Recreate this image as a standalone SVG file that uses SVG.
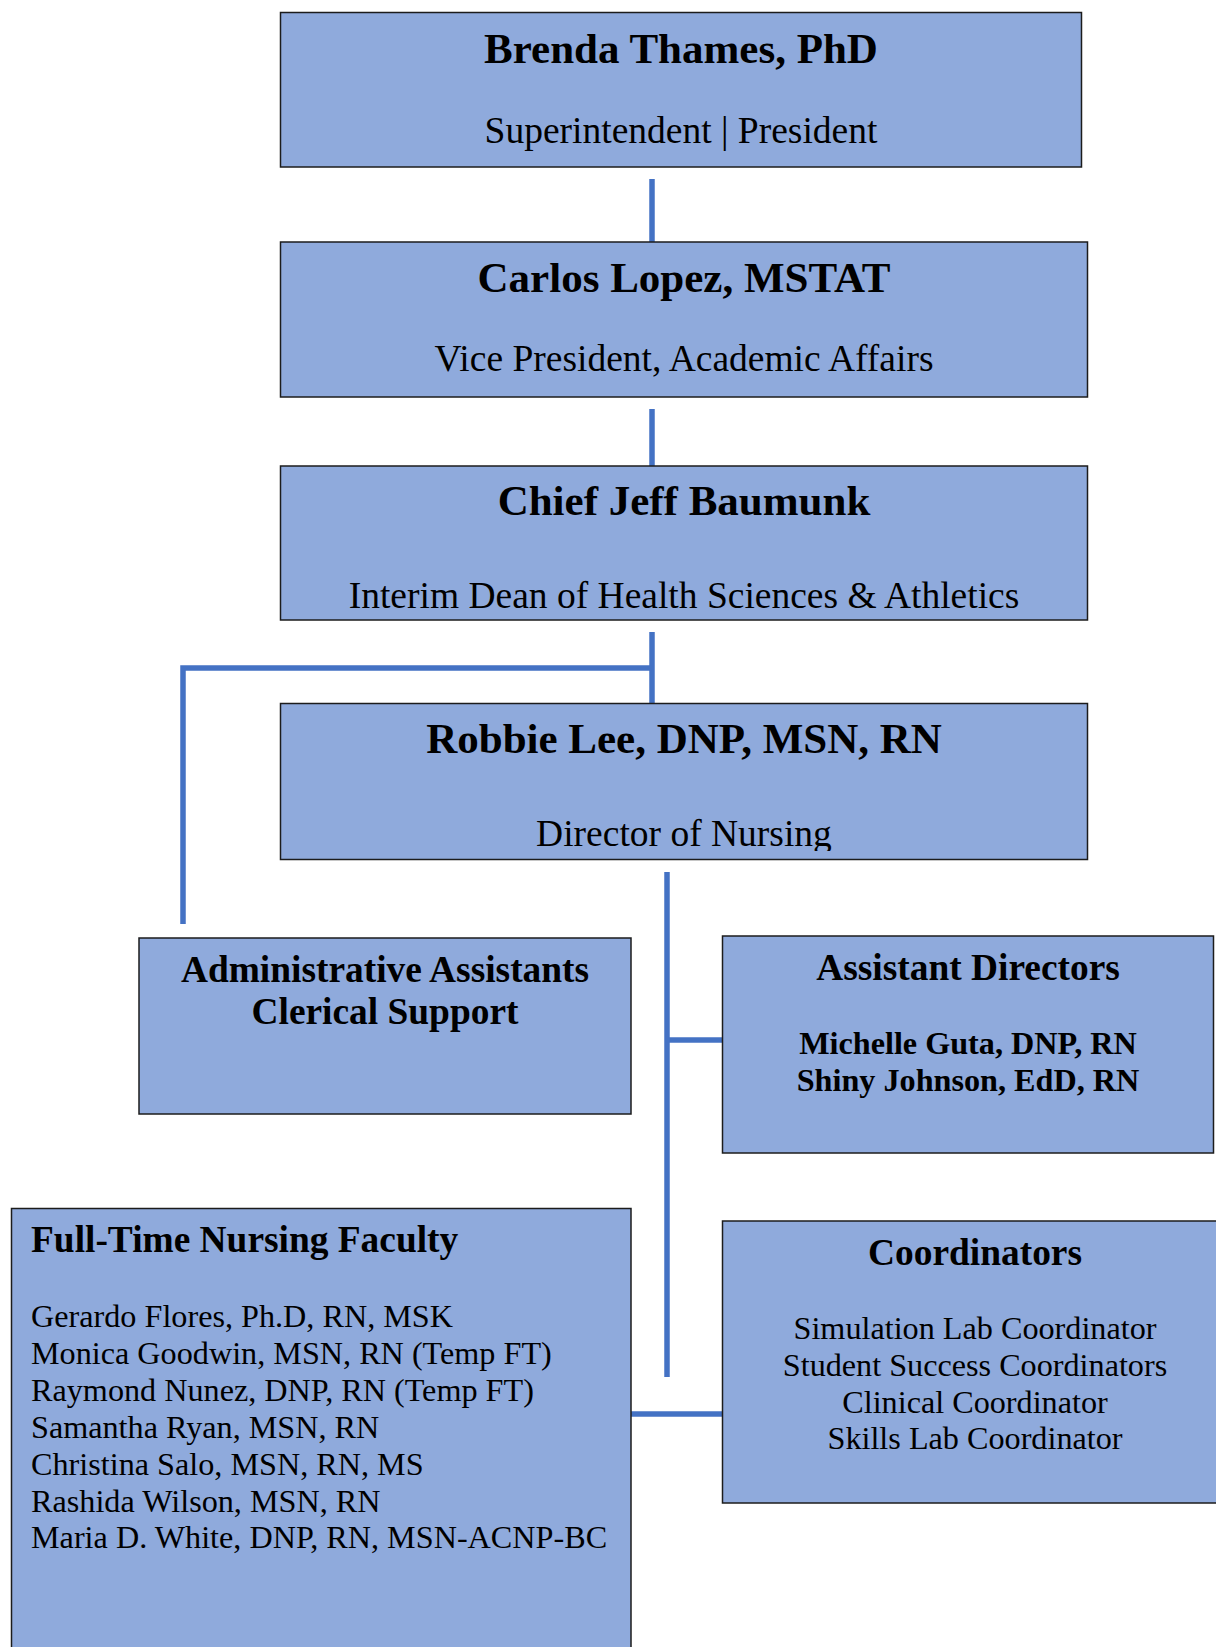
<svg xmlns="http://www.w3.org/2000/svg" width="1216" height="1647" viewBox="0 0 1216 1647">
  <style>
    .box { fill: #8faadc; stroke: #1c1c1c; stroke-width: 1.5; }
    .link { fill: none; stroke: #4472c4; stroke-width: 5.5; stroke-linecap: butt; }
    text { font-family: "Liberation Serif", "Times New Roman", serif; fill: #000; }
    .name { font-size: 43px; font-weight: bold; text-anchor: middle; }
    .title { font-size: 37.5px; text-anchor: middle; }
    .head { font-size: 37.4px; font-weight: bold; }
    .mid { text-anchor: middle; }
    .item { font-size: 32.2px; }
    .bold { font-weight: bold; }
  </style>
  <defs>
    <!-- the director's text frame cuts off the descenders of its last line -->
    <clipPath id="director-frame">
      <rect x="280" y="703" width="808" height="148"/>
    </clipPath>
  </defs>

  <!-- reporting lines -->
  <g id="connectors">
    <line class="link" x1="652" y1="179" x2="652" y2="242"/>
    <line class="link" x1="652" y1="409" x2="652" y2="466"/>
    <line class="link" x1="652" y1="632" x2="652" y2="703"/>
    <polyline class="link" points="652,668 183,668 183,924"/>
    <line class="link" x1="667" y1="872" x2="667" y2="1377"/>
    <line class="link" x1="667" y1="1040" x2="723" y2="1040"/>
    <line class="link" x1="631" y1="1414" x2="722" y2="1414"/>
  </g>

  <g id="superintendent">
    <rect class="box" x="280.5" y="12.5" width="801" height="154.5"/>
    <text class="name" x="681" y="63">Brenda Thames, PhD</text>
    <text class="title" x="681" y="143">Superintendent | President</text>
  </g>

  <g id="vp-academic">
    <rect class="box" x="280.5" y="242" width="807" height="155"/>
    <text class="name" x="684" y="292">Carlos Lopez, MSTAT</text>
    <text class="title" x="684" y="371">Vice President, Academic Affairs</text>
  </g>

  <g id="dean">
    <rect class="box" x="280.5" y="466" width="807" height="154"/>
    <text class="name" x="684" y="515">Chief Jeff Baumunk</text>
    <text class="title" x="684" y="608">Interim Dean of Health Sciences &amp; Athletics</text>
  </g>

  <g id="director">
    <rect class="box" x="280.5" y="703.5" width="807" height="156"/>
    <g clip-path="url(#director-frame)">
      <text class="name" x="684" y="753">Robbie Lee, DNP, MSN, RN</text>
      <text class="title" x="684" y="846">Director of Nursing</text>
    </g>
  </g>

  <g id="admin-support">
    <rect class="box" x="139" y="938" width="492" height="176"/>
    <text class="head mid" x="385" y="982">Administrative Assistants</text>
    <text class="head mid" x="385" y="1024">Clerical Support</text>
  </g>

  <g id="assistant-directors">
    <rect class="box" x="722.5" y="936" width="491" height="217"/>
    <text class="head mid" x="968" y="980">Assistant Directors</text>
    <text class="item bold mid" x="968" y="1054">Michelle Guta, DNP, RN</text>
    <text class="item bold mid" x="968" y="1091">Shiny Johnson, EdD, RN</text>
  </g>

  <g id="faculty">
    <rect class="box" x="11.5" y="1208.5" width="619.5" height="460"/>
    <text class="head" x="31" y="1252">Full-Time Nursing Faculty</text>
    <text class="item" x="31" y="1327">Gerardo Flores, Ph.D, RN, MSK</text>
    <text class="item" x="31" y="1364">Monica Goodwin, MSN, RN (Temp FT)</text>
    <text class="item" x="31" y="1401">Raymond Nunez, DNP, RN (Temp FT)</text>
    <text class="item" x="31" y="1438">Samantha Ryan, MSN, RN</text>
    <text class="item" x="31" y="1475">Christina Salo, MSN, RN, MS</text>
    <text class="item" x="31" y="1512">Rashida Wilson, MSN, RN</text>
    <text class="item" x="31" y="1548">Maria D. White, DNP, RN, MSN-ACNP-BC</text>
  </g>

  <g id="coordinators">
    <rect class="box" x="722.5" y="1221" width="510" height="282"/>
    <text class="head mid" x="975" y="1265">Coordinators</text>
    <text class="item mid" x="975" y="1339">Simulation Lab Coordinator</text>
    <text class="item mid" x="975" y="1376">Student Success Coordinators</text>
    <text class="item mid" x="975" y="1413">Clinical Coordinator</text>
    <text class="item mid" x="975" y="1449">Skills Lab Coordinator</text>
  </g>
</svg>
